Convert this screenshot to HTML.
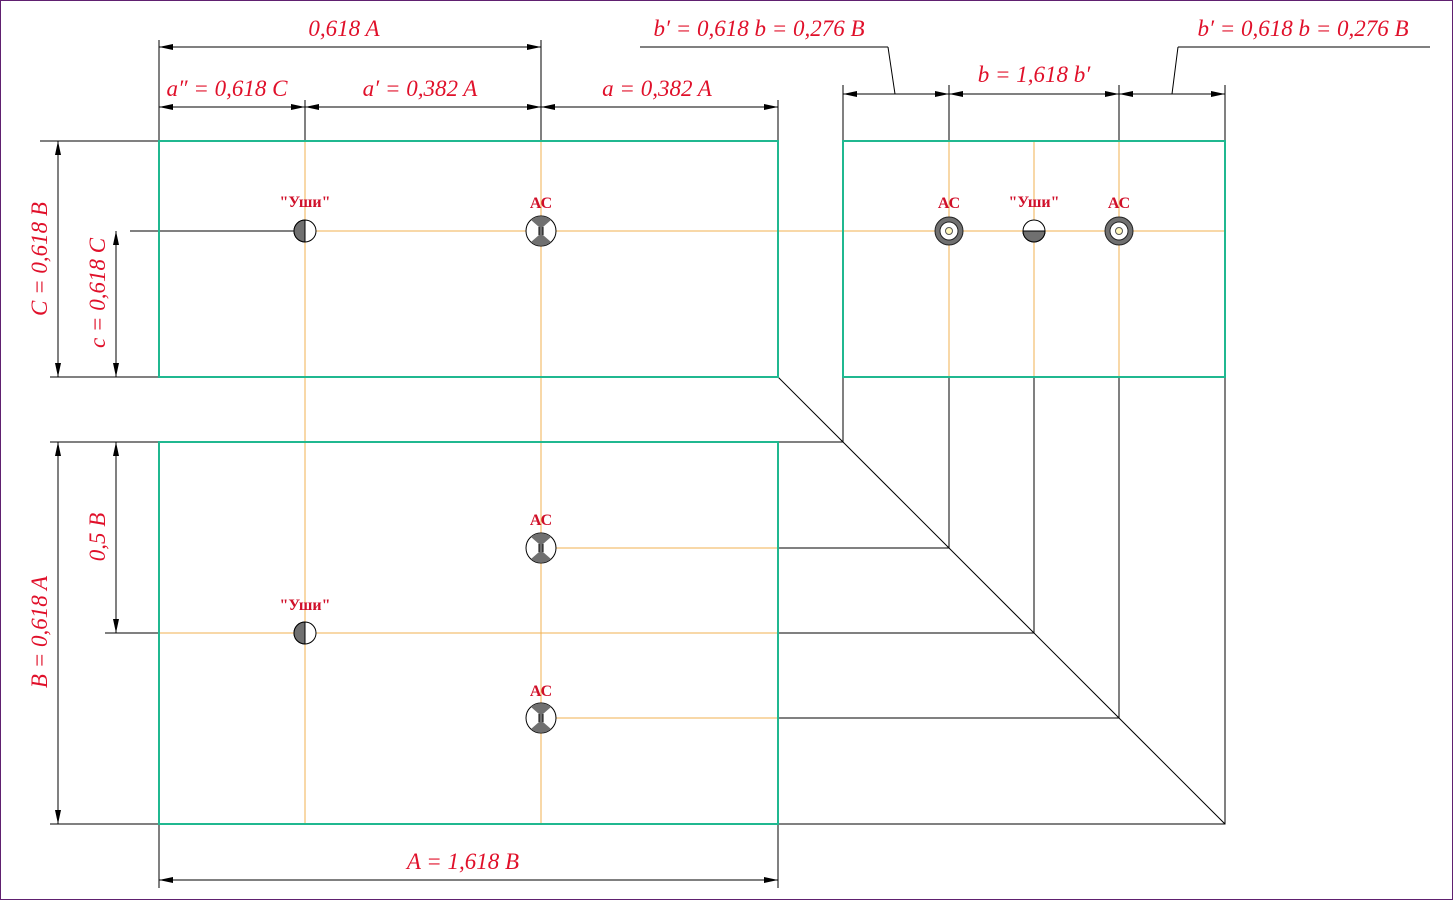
<!DOCTYPE html>
<html><head><meta charset="utf-8"><style>
html,body{margin:0;padding:0;background:#fff}
svg{display:block}
.t{font-family:"Liberation Serif",serif;font-style:italic;font-size:23px;fill:#e0102a}
.s{font-family:"Liberation Serif",serif;font-weight:bold;font-size:16px;fill:#d0102a}
</style></head><body>
<svg width="1453" height="900" viewBox="0 0 1453 900" xmlns="http://www.w3.org/2000/svg">
<defs>
<marker id="a" viewBox="0 0 14 6" refX="14" refY="3" markerWidth="14" markerHeight="6" orient="auto-start-reverse" markerUnits="userSpaceOnUse"><path d="M0,0L14,3L0,6z" fill="#000"/></marker>
</defs>
<rect x="0.5" y="0.5" width="1452" height="899" fill="none" stroke="#602070"/>
<g stroke="#f0b050" stroke-width="1" fill="none" shape-rendering="crispEdges">
<line x1="305" y1="100" x2="305" y2="824"/>
<line x1="541" y1="100" x2="541" y2="824"/>
<line x1="949" y1="141" x2="949" y2="377"/>
<line x1="1034" y1="141" x2="1034" y2="377"/>
<line x1="1119" y1="141" x2="1119" y2="377"/>
<line x1="159" y1="231" x2="1225" y2="231"/>
<line x1="541" y1="548" x2="778" y2="548"/>
<line x1="159" y1="633" x2="778" y2="633"/>
<line x1="541" y1="718" x2="778" y2="718"/>
</g>
<g stroke="#000" stroke-width="1" fill="none">
<g shape-rendering="crispEdges">
<path d="M778 548H949V377M778 633H1034V377M778 718H1119V377M778 824H1225V377M778 442H843V377"/>
<path d="M50 824H159M50 442H159M40 141H159M50 377H159M130 231H295M105 633H159"/>
<path d="M159 40V141M541 40V141M305 100V141M778 100V141"/>
<path d="M843 85V141M949 85V141M1119 85V141M1225 85V141"/>
<path d="M159 824V888M778 824V888M640 47H888M1178 47H1430"/>
</g>
<path d="M778 377L1225 824M895 94L888 47M1172 94L1178 47"/>
</g>
<g stroke="#000" stroke-width="1" marker-start="url(#a)" marker-end="url(#a)" shape-rendering="crispEdges">
<line x1="58" y1="141" x2="58" y2="377"/>
<line x1="116" y1="231" x2="116" y2="377"/>
<line x1="58" y1="442" x2="58" y2="824"/>
<line x1="116" y1="442" x2="116" y2="633"/>
<line x1="159" y1="47" x2="541" y2="47"/>
<line x1="159" y1="107" x2="305" y2="107"/>
<line x1="305" y1="107" x2="541" y2="107"/>
<line x1="541" y1="107" x2="778" y2="107"/>
<line x1="843" y1="94" x2="949" y2="94"/>
<line x1="949" y1="94" x2="1119" y2="94"/>
<line x1="1119" y1="94" x2="1225" y2="94"/>
<line x1="159" y1="880" x2="778" y2="880"/>
</g>
<g stroke="#20b890" stroke-width="2" fill="none">
<rect x="159" y="141" width="619" height="236"/>
<rect x="159" y="442" width="619" height="382"/>
<rect x="843" y="141" width="382" height="236"/>
</g>
<g stroke="#000" stroke-width="1">
<g transform="translate(305,231)"><circle r="11" fill="#fff"/><path d="M0 -11A11 11 0 0 0 0 11Z" fill="#707070"/></g>
<g transform="translate(305,633)"><circle r="11" fill="#fff"/><path d="M0 -11A11 11 0 0 0 0 11Z" fill="#707070"/></g>
<g transform="translate(1034,231)"><circle r="11" fill="#fff"/><path d="M-11 0A11 11 0 0 0 11 0Z" fill="#707070"/></g>
</g>
<g id="ac" transform="translate(541,231)" stroke="#000">
<circle r="15" fill="#fff"/>
<path d="M-10 -11A15 15 0 0 1 10 -11L2 -4V4L10 11A15 15 0 0 1 -10 11L-2 4V-4Z" fill="#707070" stroke="none"/>
<path d="M-2 -4V4M2 -4V4" stroke="#000"/>
</g>
<use href="#ac" x="0" y="317"/>
<use href="#ac" x="0" y="487"/>
<g transform="translate(949,231)"><circle r="14" fill="#707070" stroke="#222"/><circle r="9" fill="#fff" stroke="#222"/><circle r="3.5" fill="#fff8c0" stroke="#555"/></g>
<g transform="translate(1119,231)"><circle r="14" fill="#707070" stroke="#222"/><circle r="9" fill="#fff" stroke="#222"/><circle r="3.5" fill="#fff8c0" stroke="#555"/></g>
<g class="s" text-anchor="middle">
<text x="305" y="207">"Уши"</text>
<text x="541" y="208">АС</text>
<text x="949" y="208">АС</text>
<text x="1034" y="207">"Уши"</text>
<text x="1119" y="208">АС</text>
<text x="541" y="525">АС</text>
<text x="305" y="610">"Уши"</text>
<text x="541" y="696">АС</text>
</g>
<g class="t">
<text x="344" y="36" text-anchor="middle">0,618 A</text>
<text x="227" y="96" text-anchor="middle">a″ = 0,618 C</text>
<text x="420" y="96" text-anchor="middle">a′ = 0,382 A</text>
<text x="657" y="96" text-anchor="middle">a = 0,382 A</text>
<text x="759" y="36" text-anchor="middle">b′ = 0,618 b = 0,276 B</text>
<text x="1303" y="36" text-anchor="middle">b′ = 0,618 b = 0,276 B</text>
<text x="1034" y="82" text-anchor="middle">b = 1,618 b′</text>
<text x="463" y="869" text-anchor="middle">A = 1,618 B</text>
<text transform="translate(47,259) rotate(-90)" text-anchor="middle">C = 0,618 B</text>
<text transform="translate(105,293) rotate(-90)" text-anchor="middle">c = 0,618 C</text>
<text transform="translate(47,632) rotate(-90)" text-anchor="middle">B = 0,618 A</text>
<text transform="translate(105,537) rotate(-90)" text-anchor="middle">0,5 B</text>
</g>
</svg>
</body></html>
